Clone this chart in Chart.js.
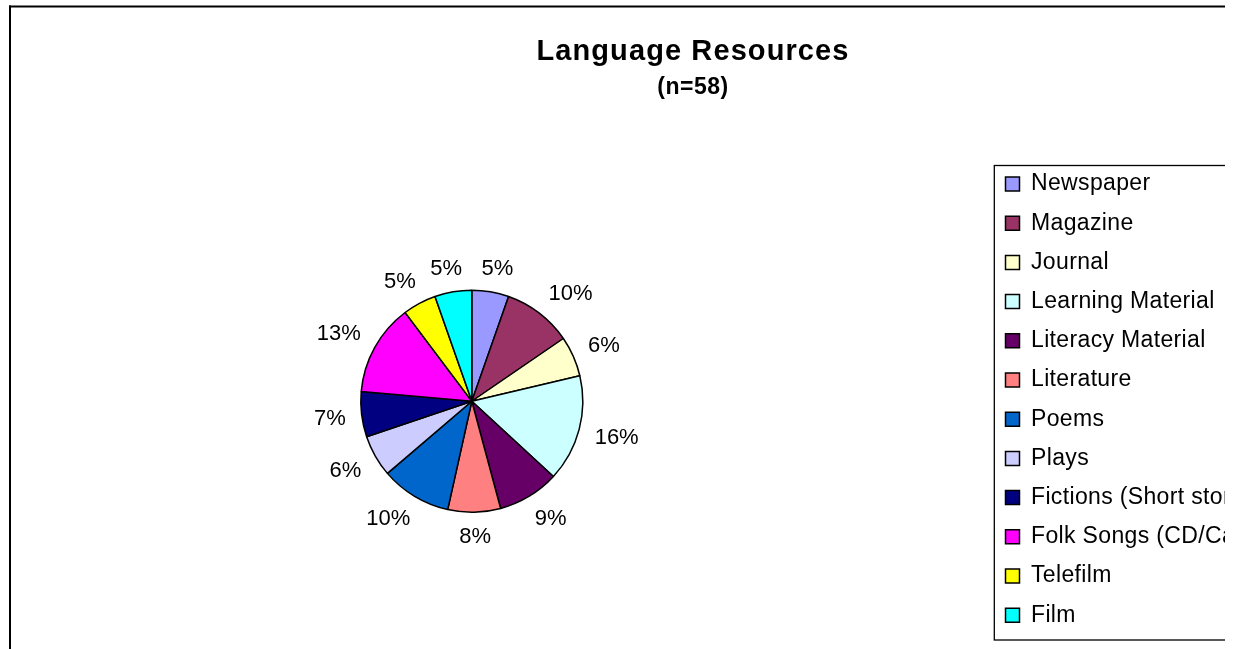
<!DOCTYPE html>
<html>
<head>
<meta charset="utf-8">
<script src="https://cdn.jsdelivr.net/npm/chart.js@4.4.1/dist/chart.umd.min.js"></script>
<style>
  html, body { margin: 0; padding: 0; background: #ffffff; overflow: hidden; }
  #wrap { position: absolute; left: 0; top: 0; width: 1225px; height: 649px; overflow: hidden; }
  #chart { display: block; position: absolute; left: -46px; top: 0; }
</style>
</head>
<body>
<div id="wrap"><canvas id="chart" width="1271" height="649"></canvas></div>
<script>
// ---- data ----
const categories = ['Newspaper', 'Magazine', 'Journal', 'Learning Material', 'Literacy Material',
  'Literature', 'Poems', 'Plays', 'Fictions (Short stories)', 'Folk Songs (CD/Cassettes)', 'Telefilm', 'Film'];
const shares = [5.4, 10.1, 5.9, 15.6, 9.0, 7.7, 10.3, 6.1, 6.6, 13.4, 4.9, 5.4];
const sliceColors = ['#9999FF', '#993366', '#FFFFCC', '#CCFFFF', '#660066', '#FF8080',
  '#0066CC', '#CCCCFF', '#000080', '#FF00FF', '#FFFF00', '#00FFFF'];
const titleText = 'Language Resources';
const subtitleText = '(n=58)';

const FONT = '"Liberation Sans", Arial, Helvetica, sans-serif';
const OX = 46; // canvas is shifted left by this many pixels

// outer frame + legend border
const framePlugin = {
  id: 'frame',
  beforeDraw(chart) {
    const ctx = chart.ctx;
    ctx.save();
    ctx.fillStyle = '#000';
    ctx.fillRect(OX + 9, 5.5, 1400, 2);
    ctx.fillRect(OX + 9, 5.5, 2, 700);
    const lg = chart.legend;
    ctx.strokeStyle = '#000';
    ctx.lineWidth = 1.3;
    ctx.strokeRect(lg.left + 5, lg.top + 9.2, 400, 474.5);
    ctx.restore();
  }
};

// centre the title block over the reference position and give text its letter spacing
const layoutTweak = {
  id: 'layoutTweak',
  afterLayout(chart) {
    chart.boxes.forEach(b => {
      const isTitle = b.options && b.options.text !== undefined && b.options.position === 'top';
      if (isTitle) {
        const dx = (OX + 693) - (b.left + b.right) / 2;
        b.left += dx; b.right += dx;
      }
      if (!b.__lsWrapped && (isTitle || b === chart.legend)) {
        b.__lsWrapped = true;
        const spacing = b === chart.legend ? '0.35px' : (b.options.text === titleText ? '1.1px' : '0.5px');
        const orig = b.draw;
        b.draw = function (area) {
          const c = chart.ctx;
          const prev = c.letterSpacing;
          c.letterSpacing = spacing;
          orig.call(this, area);
          c.letterSpacing = prev || '0px';
        };
      }
    });
  }
};

// percentage labels outside the pie
const labelPlugin = {
  id: 'sliceLabels',
  afterDatasetsDraw(chart) {
    const ctx = chart.ctx;
    const meta = chart.getDatasetMeta(0);
    const total = shares.reduce((a, b) => a + b, 0);
    ctx.save();
    ctx.letterSpacing = '0px';
    ctx.font = '22px ' + FONT;
    ctx.fillStyle = '#000';
    ctx.textAlign = 'center';
    ctx.textBaseline = 'middle';
    meta.data.forEach((arc, i) => {
      const p = arc.getProps(['x', 'y', 'startAngle', 'endAngle', 'outerRadius'], true);
      const mid = (p.startAngle + p.endAngle) / 2;
      const c = Math.cos(mid), s = Math.sin(mid);
      const txt = Math.round(shares[i] / total * 100) + '%';
      const w = ctx.measureText(txt).width, h = 16, k = 1.6;
      const ax = p.x + (p.outerRadius + 16) * c;
      const ay = p.y + (p.outerRadius + 16) * s;
      const cx = ax + w / 2 * Math.max(-1, Math.min(1, c * k));
      const cy = ay + h / 2 * Math.max(-1, Math.min(1, s * k));
      ctx.fillText(txt, cx, cy + 1);
    });
    ctx.restore();
  }
};

new Chart(document.getElementById('chart'), {
  type: 'pie',
  data: {
    labels: categories,
    datasets: [{
      data: shares,
      backgroundColor: sliceColors,
      borderColor: '#000',
      borderWidth: 1.5,
      radius: 111
    }]
  },
  options: {
    responsive: false,
    animation: false,
    devicePixelRatio: 1,
    events: [],
    layout: { padding: { left: 0.3, right: 0, top: 37.7, bottom: 2.8 } },
    plugins: {
      title: {
        display: true, text: titleText, color: '#000', padding: 0,
        font: { family: FONT, size: 29, weight: 'bold', lineHeight: 1 }
      },
      subtitle: {
        display: true, text: subtitleText, color: '#000',
        padding: { top: 9.3, bottom: 57.3 },
        font: { family: FONT, size: 23, weight: 'bold', lineHeight: 1 }
      },
      legend: {
        display: true, position: 'right', align: 'start', fullSize: false, maxWidth: 235.7,
        labels: {
          color: '#000', boxWidth: 14, boxHeight: 14, padding: 16.2,
          font: { family: FONT, size: 23 }
        }
      },
      tooltip: { enabled: false }
    }
  },
  plugins: [framePlugin, layoutTweak, labelPlugin]
});
</script>
</body>
</html>
